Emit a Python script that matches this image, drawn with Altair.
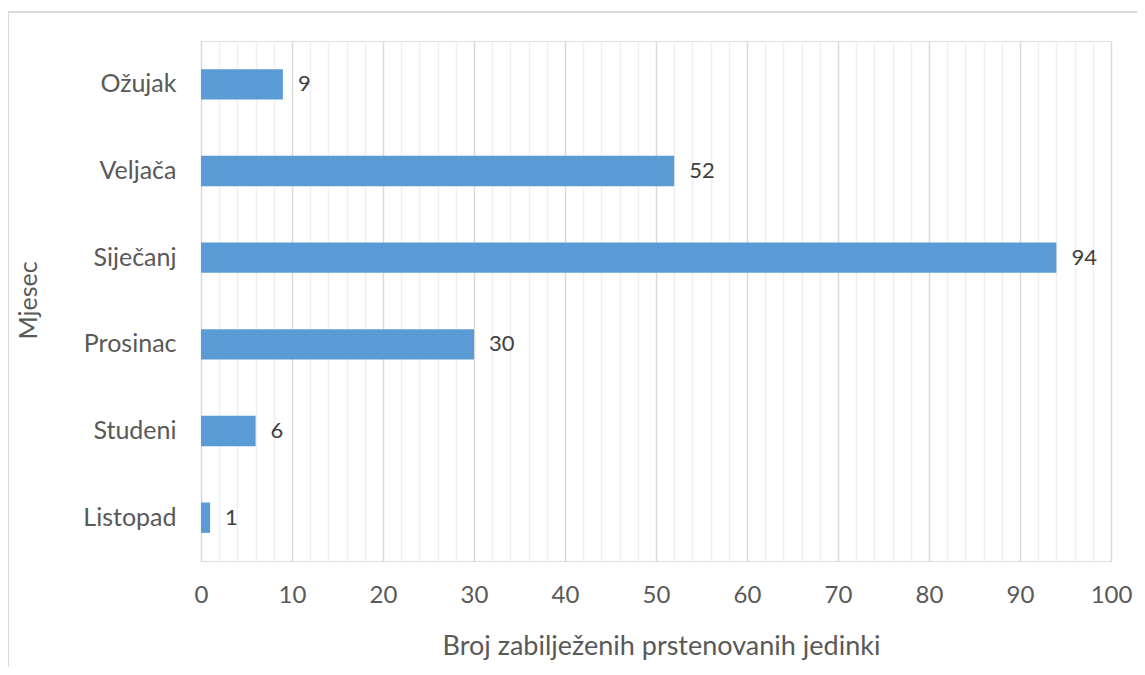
import altair as alt
import pandas as pd

months = ["Ožujak", "Veljača", "Siječanj", "Prosinac", "Studeni", "Listopad"]
counts = [9, 52, 94, 30, 6, 1]
x_ticks = list(range(0, 101, 2))

df = pd.DataFrame({"mjesec": months, "broj": counts})

FONT = "Lato"
GREY = "#595959"

x_enc = alt.X(
    "broj:Q",
    scale=alt.Scale(domain=[0, 100], nice=False),
    axis=alt.Axis(
        values=x_ticks,
        labelExpr="datum.value % 10 === 0 ? datum.label : ''",
        labelOverlap=False,
        labelFlush=False,
        gridColor={"condition": {"test": "datum.value % 10 === 0", "value": "#d9d9d9"}, "value": "#f0f0f0"},
        gridWidth=1.5,
        domain=False,
        ticks=False,
        labelFont=FONT,
        labelFontSize=24,
        labelColor=GREY,
        labelPadding=22,
        title="Broj zabilježenih prstenovanih jedinki",
        titleFont=FONT,
        titleFontSize=27,
        titleFontWeight="normal",
        titleColor=GREY,
        titleX=460,
        titleY=85,
        titleBaseline="middle",
    ),
)
y_enc = alt.Y(
    "mjesec:N",
    sort=months,
    scale=alt.Scale(paddingInner=0.65, paddingOuter=0.325),
    axis=alt.Axis(
        domain=False,
        ticks=False,
        grid=False,
        labelFont=FONT,
        labelFontSize=25,
        labelColor=GREY,
        labelPadding=25,
        title="Mjesec",
        titleFont=FONT,
        titleFontSize=25,
        titleFontWeight="normal",
        titleColor=GREY,
        titleX=-173,
        titleY=259,
        titleBaseline="middle",
    ),
)

bars = alt.Chart(df).mark_bar(color="#5b9bd5").encode(x=x_enc, y=y_enc)
labels = alt.Chart(df).mark_text(
    align="left", baseline="middle", dx=15, font=FONT, fontSize=22, color="#404040"
).encode(x=x_enc, y=y_enc, text="broj:Q")

frame_top = alt.Chart(df).mark_rule(color="#d9d9d9", strokeWidth=2, clip=False).encode(
    x=alt.value(-193), x2=alt.value(960), y=alt.value(-29)
)
frame_left = alt.Chart(df).mark_rule(color="#d9d9d9", strokeWidth=2, clip=False).encode(
    x=alt.value(-193), y=alt.value(-29), y2=alt.value(700)
)

chart = (
    alt.layer(bars, labels, frame_top, frame_left)
    .properties(
        width=910,
        height=520,
        autosize=alt.AutoSizeParams(type="none"),
        padding={"left": 193, "top": 33, "right": 26, "bottom": 106},
    )
    .configure_view(stroke=None)
    .configure(background="white")
)

chart.save("out.html", embed_options={"renderer": "svg", "actions": False})
